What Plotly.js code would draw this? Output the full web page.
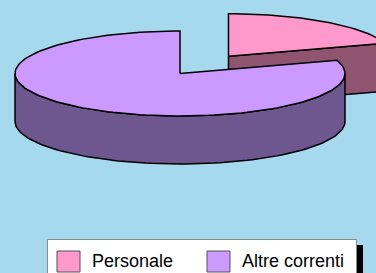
<!DOCTYPE html>
<html>
<head>
<meta charset="utf-8">
<script src="https://cdn.plot.ly/plotly-3.0.1.min.js"></script>
<style>html,body{margin:0;padding:0;background:#a6d8ee;}#chart{width:376px;height:273px;}</style>
</head>
<body>
<div id="chart"></div>
<script>
// ---- data ----
var categories = ['Personale', 'Altre correnti'];
var values = [20, 80];
var topColors = ['#ff99cc', '#cc99ff'];
var sideColors = ['#8e5470', '#6e568f'];
var explode = [0.5, 0];

// ---- geometry (layout constants, pixel space) ----
var CX = 180, CY = 73.5, RX = 165, RY = 42.5, DEPTH = 48;
var START = 90; // degrees, going clockwise
var total = values.reduce(function (a, b) { return a + b; }, 0);

function rim(cx, cy, deg, dz) {
  var r = deg * Math.PI / 180;
  return [cx + RX * Math.cos(r), cy - RY * Math.sin(r) + (dz || 0)];
}
function arc(cx, cy, a0, a1, dz) {
  var pts = [], n = Math.max(8, Math.ceil(Math.abs(a1 - a0) / 2));
  for (var i = 0; i <= n; i++) pts.push(rim(cx, cy, a0 + (a1 - a0) * i / n, dz));
  return pts;
}
function trace(pts, fill, name) {
  return {
    type: 'scatter', mode: 'lines', fill: 'toself', fillcolor: fill,
    x: pts.map(function (p) { return p[0]; }),
    y: pts.map(function (p) { return p[1]; }),
    line: { color: '#000000', width: 1.5 },
    name: name, showlegend: false, hoverinfo: 'skip'
  };
}

var slices = [];
var a = START;
values.forEach(function (v, i) {
  var sweep = v / total * 360;
  var a0 = a, a1 = a - sweep; // clockwise
  var mid = (a0 + a1) / 2 * Math.PI / 180;
  var cx = CX + explode[i] * RX * Math.cos(mid);
  var cy = CY - explode[i] * RY * Math.sin(mid);
  slices.push({ i: i, a0: a0, a1: a1, cx: cx, cy: cy });
  a = a1;
});

var walls = [], tops = [];
slices.forEach(function (s) {
  var i = s.i;
  var endFace = [[s.cx, s.cy], rim(s.cx, s.cy, s.a1), rim(s.cx, s.cy, s.a1, DEPTH), [s.cx, s.cy + DEPTH], [s.cx, s.cy]];
  var endNormal = (s.a1 - 90) * Math.PI / 180;
  if (Math.sin(endNormal) < -0.05) walls.push(trace(endFace, sideColors[i], categories[i]));
  var startNormal = (s.a0 + 90) * Math.PI / 180;
  var startFace = [[s.cx, s.cy], rim(s.cx, s.cy, s.a0), rim(s.cx, s.cy, s.a0, DEPTH), [s.cx, s.cy + DEPTH], [s.cx, s.cy]];
  if (Math.sin(startNormal) < -0.05) walls.push(trace(startFace, sideColors[i], categories[i]));
  var lo = Math.max(s.a1, -180), hi = Math.min(s.a0, 0);
  if (hi > lo) {
    var topArc = arc(s.cx, s.cy, hi, lo, 0);
    var botArc = arc(s.cx, s.cy, lo, hi, DEPTH);
    walls.push(trace(topArc.concat(botArc).concat([topArc[0]]), sideColors[i], categories[i]));
  }
  var top = [[s.cx, s.cy]].concat(arc(s.cx, s.cy, s.a0, s.a1, 0)).concat([[s.cx, s.cy]]);
  tops.push(trace(top, topColors[i], categories[i]));
});

var data = [];
[0, 1].forEach(function (k) {
  walls.forEach(function (w) { if (w.name === categories[k]) data.push(w); });
  data.push(tops[k]);
});

// ---- legend (drawn as shapes + text annotations) ----
var LEG_X = [57, 207], SW_W = 23, SW_Y0 = 251, SW_Y1 = 272, TXT_DX = 33, TXT_Y = 261;
var shapes = [
  { type: 'rect', xref: 'x', yref: 'y', x0: 357, x1: 363, y0: 245, y1: 280, fillcolor: '#000000', line: { width: 0 } },
  { type: 'rect', xref: 'x', yref: 'y', x0: 47.5, x1: 356.5, y0: 239.5, y1: 280, fillcolor: '#ffffff', line: { color: '#8a8a8a', width: 1 } }
];
var annotations = [];
categories.forEach(function (c, i) {
  shapes.push({ type: 'rect', xref: 'x', yref: 'y', x0: LEG_X[i], x1: LEG_X[i] + SW_W, y0: SW_Y0, y1: SW_Y1,
    fillcolor: topColors[i], line: { color: '#555555', width: 1 } });
  annotations.push({ xref: 'x', yref: 'y', x: LEG_X[i] + TXT_DX, y: TXT_Y, xanchor: 'left', yanchor: 'middle',
    text: c, showarrow: false, font: { family: 'Liberation Sans, Arial, sans-serif', size: 18, color: '#000000' } });
});

var layout = {
  width: 376, height: 273,
  margin: { l: 0, r: 0, t: 0, b: 0, pad: 0, autoexpand: false },
  paper_bgcolor: '#a6d8ee', plot_bgcolor: '#a6d8ee',
  xaxis: { range: [0, 376], visible: false, fixedrange: true },
  yaxis: { range: [273, 0], visible: false, fixedrange: true },
  showlegend: false,
  shapes: shapes,
  annotations: annotations
};

Plotly.newPlot('chart', data, layout, { staticPlot: true, displayModeBar: false });
</script>
</body>
</html>
